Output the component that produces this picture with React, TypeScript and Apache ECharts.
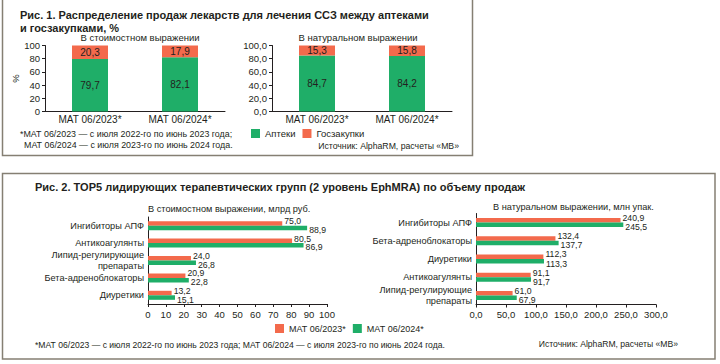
import React, { useEffect, useRef } from "react";
import * as echarts from "echarts";

const topCategories = ["МАТ 06/2023*", "МАТ 06/2024*"];
const valuePharmacy = [79.7, 82.1];
const valueGov = [20.3, 17.9];
const volumePharmacy = [84.7, 84.2];
const volumeGov = [15.3, 15.8];

const leftGroups = ["Ингибиторы АПФ", "Антикоагулянты", "Липид-регулирующие\nпрепараты", "Бета-адреноблокаторы", "Диуретики"];
const leftValue2023 = [75.0, 80.5, 24.0, 20.9, 13.2];
const leftValue2024 = [88.9, 86.9, 26.8, 22.8, 15.1];

const rightGroups = ["Ингибиторы АПФ", "Бета-адреноблокаторы", "Диуретики", "Антикоагулянты", "Липид-регулирующие\nпрепараты"];
const rightVolume2023 = [240.9, 132.4, 112.3, 91.1, 61.0];
const rightVolume2024 = [245.5, 137.7, 113.3, 91.7, 67.9];

const GREEN = "#1fae68";
const ORANGE = "#f36a4c";
const INK = "#231f20";
const FRAME = "#857f73";
const FONT = "'Liberation Sans', Arial, sans-serif";

const comma1 = (v: number) => v.toFixed(1).replace(".", ",");

export default function App() {
  const ref = useRef<HTMLDivElement>(null);
  useEffect(() => {
    if (!ref.current) return;
    const chart = echarts.init(ref.current, undefined, { renderer: "svg" });

    const txt = (text: string, x: number, y: number, size: number, opts: any = {}) => ({
      type: "text",
      x,
      y,
      silent: true,
      style: {
        text,
        fill: INK,
        font: `${opts.bold ? "bold " : ""}${size}px ${FONT}`,
        textAlign: opts.align || "left",
        textVerticalAlign: "middle",
      },
    });

    const topYAxis = (gridIndex: number, fmt?: (v: number) => string) => ({
      type: "value",
      gridIndex,
      min: 0,
      max: 100,
      interval: 20,
      splitLine: { show: false },
      axisLine: { show: true, lineStyle: { color: INK, width: 1 } },
      axisTick: { show: true, length: 3, lineStyle: { color: INK } },
      axisLabel: { color: INK, fontSize: 9.5, fontFamily: FONT, margin: 5, formatter: fmt },
    });

    const topXAxis = (gridIndex: number) => ({
      type: "category",
      gridIndex,
      data: topCategories,
      axisLine: { show: true, lineStyle: { color: INK, width: 1 } },
      axisTick: { show: false },
      axisLabel: { color: INK, fontSize: 10, fontFamily: FONT, margin: 3 },
    });

    const stackLabel = {
      show: true,
      position: "inside",
      color: INK,
      fontSize: 10,
      fontFamily: FONT,
      formatter: (p: any) => comma1(p.value),
    };

    const hLabel = (offsetY: number) => ({
      show: true,
      position: "right",
      distance: 2,
      offset: [0, offsetY],
      color: INK,
      fontSize: 8.7,
      lineHeight: 8.5,
      fontFamily: FONT,
      formatter: (p: any) => comma1(p.value),
    });

    const bottomYAxis = (gridIndex: number, data: string[]) => ({
      type: "category",
      gridIndex,
      data,
      inverse: true,
      axisLine: { show: true, lineStyle: { color: INK, width: 1 } },
      axisTick: { show: false },
      axisLabel: { color: INK, fontSize: 9.2, fontFamily: FONT, margin: 4, lineHeight: 10.5, align: "right" },
    });

    const bottomXAxis = (gridIndex: number, max: number, interval: number, fmt?: (v: number) => string) => ({
      type: "value",
      gridIndex,
      min: 0,
      max,
      interval,
      splitLine: { show: false },
      axisLine: { show: true, lineStyle: { color: INK, width: 1 } },
      axisTick: { show: true, length: 3, lineStyle: { color: INK } },
      axisLabel: { color: INK, fontSize: 9.5, fontFamily: FONT, margin: 5, formatter: fmt },
    });

    chart.setOption({
      animation: false,
      backgroundColor: "#ffffff",
      textStyle: { fontFamily: FONT },
      grid: [
        { left: 45, top: 45.5, width: 180, height: 66 },
        { left: 272, top: 45.5, width: 180, height: 66 },
        { left: 148, top: 217, width: 179, height: 87 },
        { left: 476, top: 213.5, width: 180, height: 91 },
      ],
      xAxis: [
        topXAxis(0),
        topXAxis(1),
        bottomXAxis(2, 100, 10),
        bottomXAxis(3, 300, 50, (v: number) => comma1(v)),
      ],
      yAxis: [
        {
          ...topYAxis(0),
          name: "%",
          nameLocation: "middle",
          nameRotate: 90,
          nameGap: 19,
          nameTextStyle: { color: INK, fontSize: 9.5, fontFamily: FONT },
        },
        topYAxis(1, (v: number) => comma1(v)),
        bottomYAxis(2, leftGroups),
        bottomYAxis(3, rightGroups),
      ],
      legend: [
        {
          data: ["Аптеки", "Госзакупки"],
          left: 251,
          top: 128.5,
          padding: 0,
          itemWidth: 9,
          itemHeight: 9,
          itemGap: 7,
          icon: "rect",
          textStyle: { color: INK, fontSize: 9.5, fontFamily: FONT },
        },
        {
          data: ["МАТ 06/2023*", "МАТ 06/2024*"],
          left: 275,
          top: 324,
          padding: 0,
          itemWidth: 9,
          itemHeight: 9,
          itemGap: 7,
          icon: "rect",
          textStyle: { color: INK, fontSize: 9, fontFamily: FONT },
        },
      ],
      series: [
        { name: "Аптеки", type: "bar", xAxisIndex: 0, yAxisIndex: 0, stack: "v", barWidth: 36, data: valuePharmacy, itemStyle: { color: GREEN }, label: stackLabel },
        { name: "Госзакупки", type: "bar", xAxisIndex: 0, yAxisIndex: 0, stack: "v", barWidth: 36, data: valueGov, itemStyle: { color: ORANGE }, label: stackLabel },
        { name: "Аптеки", type: "bar", xAxisIndex: 1, yAxisIndex: 1, stack: "n", barWidth: 36, data: volumePharmacy, itemStyle: { color: GREEN }, label: stackLabel },
        { name: "Госзакупки", type: "bar", xAxisIndex: 1, yAxisIndex: 1, stack: "n", barWidth: 36, data: volumeGov, itemStyle: { color: ORANGE }, label: stackLabel },
        { name: "МАТ 06/2023*", type: "bar", xAxisIndex: 2, yAxisIndex: 2, barWidth: 4.5, barGap: "0%", data: leftValue2023, itemStyle: { color: ORANGE }, label: hLabel(-2.2) },
        { name: "МАТ 06/2024*", type: "bar", xAxisIndex: 2, yAxisIndex: 2, barWidth: 4.5, barGap: "0%", data: leftValue2024, itemStyle: { color: GREEN }, label: hLabel(2.1) },
        { name: "МАТ 06/2023*", type: "bar", xAxisIndex: 3, yAxisIndex: 3, barWidth: 4.5, barGap: "0%", data: rightVolume2023, itemStyle: { color: ORANGE }, label: hLabel(-2.4) },
        { name: "МАТ 06/2024*", type: "bar", xAxisIndex: 3, yAxisIndex: 3, barWidth: 4.5, barGap: "0%", data: rightVolume2024, itemStyle: { color: GREEN }, label: hLabel(2.3) },
      ],
      graphic: [
        {
          type: "polyline",
          silent: true,
          shape: { points: [[2.5, 0], [2.5, 155.5], [472.5, 155.5], [472.5, 0]] },
          style: { stroke: FRAME, lineWidth: 1.5, fill: "none" },
        },
        {
          type: "rect",
          silent: true,
          shape: { x: 2.5, y: 173.5, width: 712.5, height: 185.5 },
          style: { stroke: FRAME, lineWidth: 1.5, fill: "none" },
        },
        txt("Рис. 1. Распределение продаж лекарств для лечения ССЗ между аптеками", 20, 15, 11, { bold: true }),
        txt("и госзакупками, %", 20, 27.5, 11, { bold: true }),
        txt("В стоимостном выражении", 140, 37, 9.5, { align: "center" }),
        txt("В натуральном выражении", 358, 37, 9.5, { align: "center" }),
        txt("*МАТ 06/2023 — с июля 2022-го по июнь 2023 года;", 20, 133.5, 8.9),
        txt("МАТ 06/2024 — с июля 2023-го по июнь 2024 года.", 24, 145, 8.9),
        txt("Источник: AlphaRM, расчеты «МВ»", 459, 145.5, 8.7, { align: "right" }),
        txt("Рис. 2. TOP5 лидирующих терапевтических групп (2 уровень EphMRA) по объему продаж", 35, 187, 11, { bold: true }),
        txt("В стоимостном выражении, млрд руб.", 148, 209, 9.2),
        txt("В натуральном выражении, млн упак.", 493, 207, 9.2),
        txt("*МАТ 06/2023 — с июля 2022-го по июнь 2023 года; МАТ 06/2024 — с июля 2023-го по июнь 2024 года.", 35, 345, 8.6),
        txt("Источник: AlphaRM, расчеты «МВ»", 678, 344, 8.6, { align: "right" }),
      ],
    });

    return () => chart.dispose();
  }, []);

  return (
    <div
      ref={ref}
      style={{ position: "absolute", left: 0, top: 0, width: 720, height: 364, background: "#fff" }}
    />
  );
}
